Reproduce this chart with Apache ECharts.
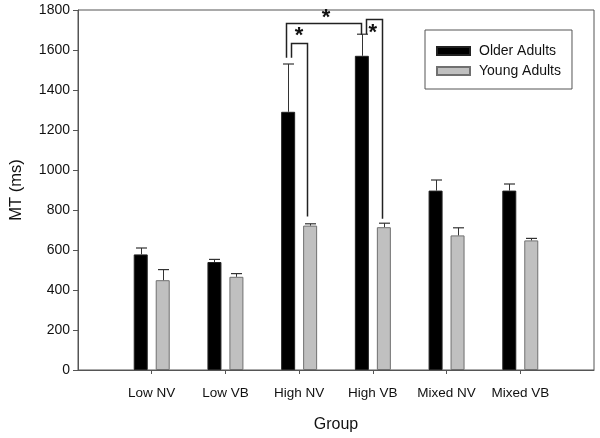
<!DOCTYPE html>
<html>
<head>
<meta charset="utf-8">
<script src="https://cdn.jsdelivr.net/npm/echarts@6/dist/echarts.min.js"></script>
<style>html,body{margin:0;padding:0;background:#fff}#c{width:600px;height:438px}</style>
</head>
<body>
<div id="c"></div>
<script>
var categories = ['Low NV', 'Low VB', 'High NV', 'High VB', 'Mixed NV', 'Mixed VB'];
var olderValues = [578, 540, 1291, 1571, 897, 897];
var olderErrTop = [610, 553, 1530, 1679, 950, 930];
var youngValues = [449, 466, 722, 714, 673, 648];
var youngErrTop = [502, 482, 731, 734, 711, 658];
var yTicks = [0, 200, 400, 600, 800, 1000, 1200, 1400, 1600, 1800];
// brackets: [leftCat, leftOffsetPx, leftBottomVal, topVal, rightCat, rightOffsetPx, rightBottomVal]
var brackets = [
  [2, -13, 1561, 1734, 3, -12, 1676],
  [2, -8, 1561, 1637, 2, 8, 767],
  [3, -7, 1679, 1756, 3, 9, 756]
];
// stars: [cat, offsetPx, value]
var stars = [
  [2, 27, 1760],
  [2, 0, 1670],
  [3, 0, 1684]
];

var padCats = [''].concat(categories).concat(['']);
function pad(arr) { return ['-'].concat(arr).concat(['-']); }
var errData = [];
for (var i = 0; i < categories.length; i++) {
  errData.push([i + 1, olderValues[i], olderErrTop[i], -11]);
  errData.push([i + 1, youngValues[i], youngErrTop[i], 11]);
}
var bracketData = brackets.map(function (b) { return [b[0] + 1, b[1], b[2], b[3], b[4] + 1, b[5], b[6]]; });
var starData = stars.map(function (s) { return [s[0] + 1, s[1], s[2]]; });

var chart = echarts.init(document.getElementById('c'), null, { renderer: 'canvas' });
var font = 'Liberation Sans, Arial, sans-serif';
chart.setOption({
  animation: false,
  textStyle: { fontFamily: font },
  grid: { left: 78, right: 6, top: 10, bottom: 66, show: true, borderColor: '#555', borderWidth: 1 },
  legend: {
    left: 425, top: 30,
    orient: 'vertical',
    borderColor: '#555', borderWidth: 1,
    padding: [14, 11, 11, 11],
    itemWidth: 33, itemHeight: 8, itemGap: 6,
    textStyle: { fontSize: 14, color: '#111', fontFamily: font, padding: [0, 0, 0, 4] },
    data: [
      { name: 'Older Adults', icon: 'rect' },
      { name: 'Young Adults', icon: 'rect' }
    ]
  },
  xAxis: {
    type: 'category',
    data: padCats,
    boundaryGap: false,
    name: 'Group', nameLocation: 'middle', nameGap: 47,
    nameTextStyle: { fontSize: 16, color: '#111', fontFamily: font },
    axisLine: { lineStyle: { color: '#555', width: 1 } },
    axisTick: { length: 4, lineStyle: { color: '#555' }, interval: function (idx) { return idx >= 1 && idx <= categories.length; } },
    axisLabel: { margin: 16, fontSize: 13.5, color: '#111', interval: 0 }
  },
  yAxis: {
    type: 'value', min: 0, max: 1800, interval: 200,
    name: 'MT (ms)', nameLocation: 'middle', nameGap: 53, nameRotate: 90,
    nameTextStyle: { fontSize: 16.5, color: '#111', fontFamily: font },
    axisLine: { show: true, lineStyle: { color: '#555', width: 1 } },
    axisTick: { show: true, length: 5, lineStyle: { color: '#555' } },
    axisLabel: { margin: 8, fontSize: 14, color: '#111', formatter: function (v) { return yTicks.indexOf(v) >= 0 ? String(v) : ''; } },
    splitLine: { show: false }
  },
  series: [
    {
      name: 'Older Adults', type: 'bar', data: pad(olderValues),
      barWidth: 14, barGap: '57%',
      itemStyle: { color: '#000', borderColor: '#222', borderWidth: 1 }
    },
    {
      name: 'Young Adults', type: 'bar', data: pad(youngValues),
      barWidth: 14,
      itemStyle: { color: '#c0c0c0', borderColor: '#707070', borderWidth: 1 }
    },
    {
      type: 'custom', data: errData, z: 5, silent: true,
      renderItem: function (params, api) {
        var off = api.value(3);
        var p0 = api.coord([api.value(0), api.value(1)]);
        var p1 = api.coord([api.value(0), api.value(2)]);
        var x = Math.round(p0[0] + off) + 0.5;
        return {
          type: 'group',
          children: [
            { type: 'line', shape: { x1: x, y1: p0[1], x2: x, y2: p1[1] }, style: { stroke: '#333', lineWidth: 1 } },
            { type: 'line', shape: { x1: x - 5.5, y1: p1[1], x2: x + 5.5, y2: p1[1] }, style: { stroke: '#333', lineWidth: 1.2 } }
          ]
        };
      }
    },
    {
      type: 'custom', data: bracketData, z: 6, silent: true,
      renderItem: function (params, api) {
        var l = api.coord([api.value(0), api.value(2)]);
        var t = api.coord([api.value(0), api.value(3)]);
        var r = api.coord([api.value(4), api.value(6)]);
        var lx = Math.round(l[0] + api.value(1)) + 0.5;
        var rx = Math.round(r[0] + api.value(5)) + 0.5;
        var ty = Math.round(t[1]) + 0.5;
        return {
          type: 'polyline',
          shape: { points: [[lx, l[1]], [lx, ty], [rx, ty], [rx, r[1]]] },
          style: { stroke: '#222', lineWidth: 1.5, fill: null }
        };
      }
    },
    {
      type: 'custom', data: starData, z: 7, silent: true,
      renderItem: function (params, api) {
        var p = api.coord([api.value(0), api.value(2)]);
        return {
          type: 'text',
          style: { x: p[0] + api.value(1), y: p[1], text: '*', fontSize: 22, fontWeight: 'bold', fontFamily: font, fill: '#111', align: 'center', verticalAlign: 'middle' }
        };
      }
    }
  ]
});
</script>
</body>
</html>
